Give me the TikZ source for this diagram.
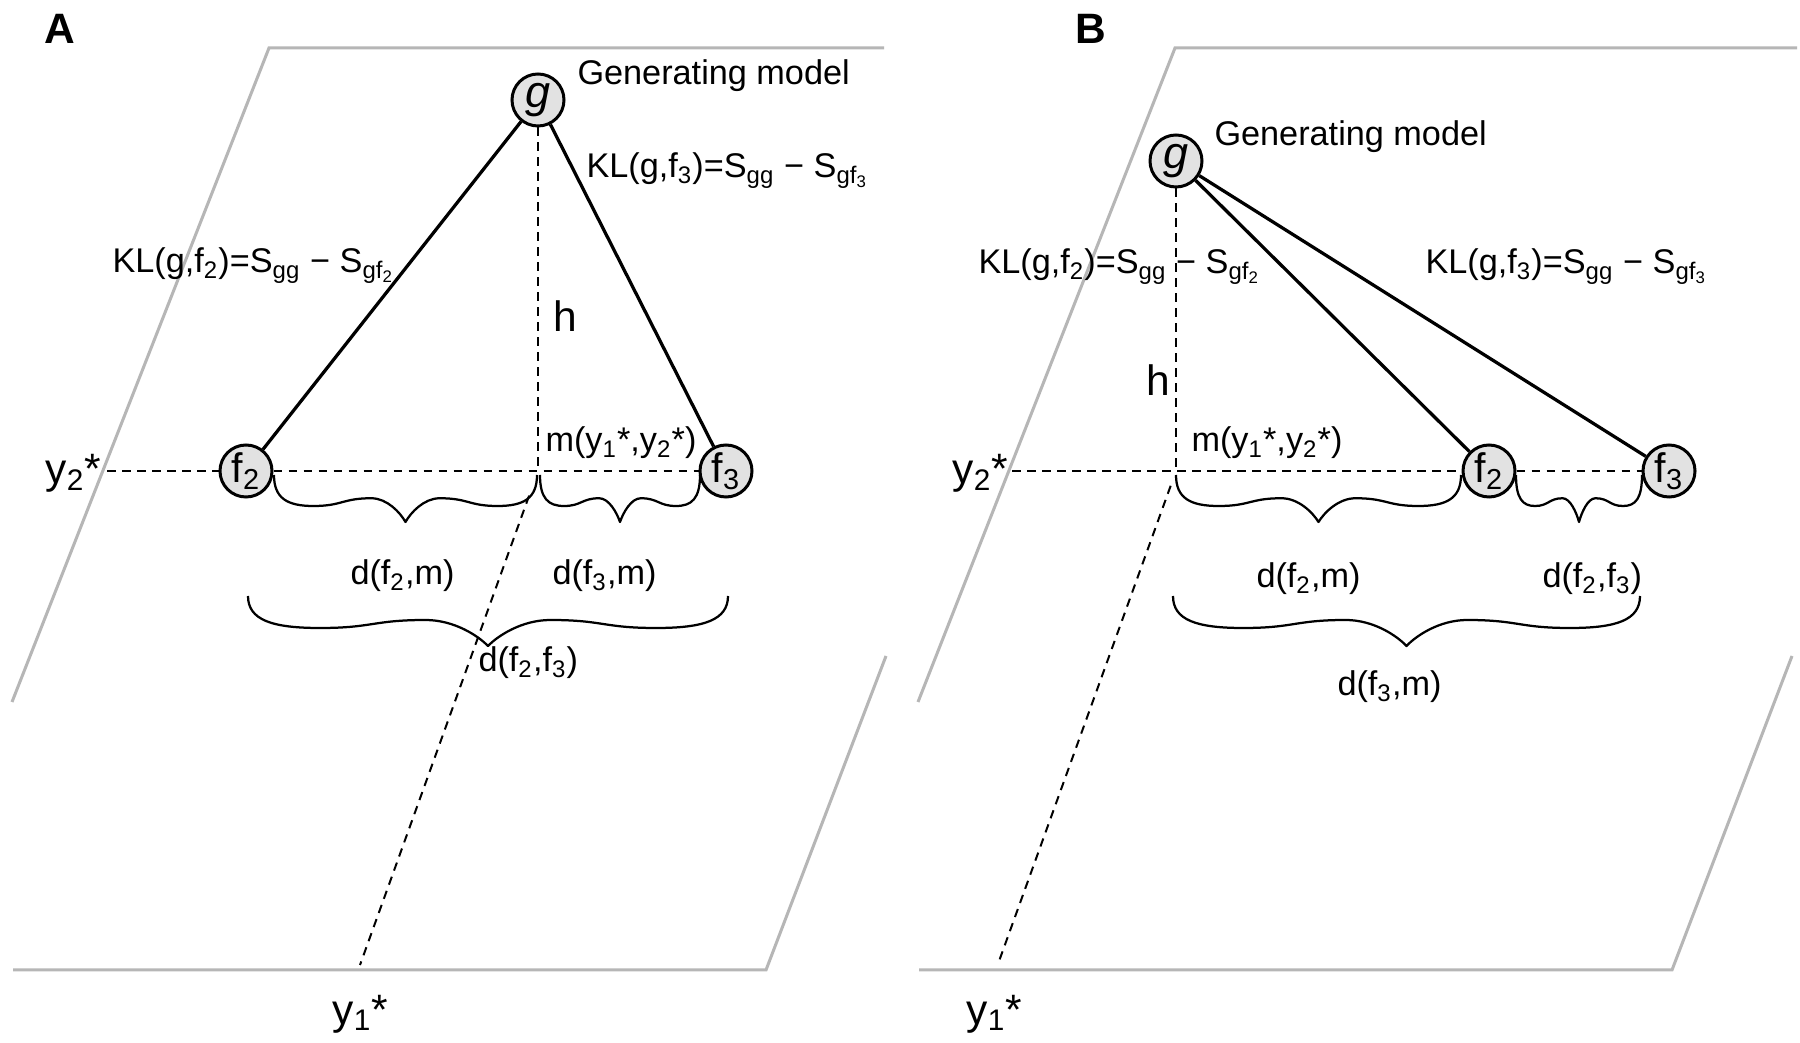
\documentclass[tikz,border=0pt]{standalone}
\usepackage{fontspec}
\setmainfont{Liberation Sans}
\usetikzlibrary{calc}
\definecolor{framegray}{RGB}{182,182,182}
\definecolor{nodefill}{RGB}{226,226,226}
\tikzset{
 px/.style={x=0.4pt,y=-0.4pt},
 frame/.style={draw=framegray, line width=1.2pt},
 model/.style={circle, draw=black, line width=1.2pt, fill=nodefill, minimum size=20.8pt, inner sep=0pt, font=\fontsize{16.5}{16.5}\selectfont},
 gmodel/.style={model, font=\fontsize{18}{18}\selectfont\itshape},
 kl/.style={line width=1.3pt},
 dashline/.style={line width=0.8pt, dash pattern=on 3.4pt off 2.6pt},
 bracestyle/.style={line width=0.9pt, line join=round},
 lbl/.style={inner sep=0pt, anchor=base west, font=\fontsize{13.7}{16}\selectfont},
 biglbl/.style={inner sep=0pt, anchor=base west, font=\fontsize{17}{19}\selectfont},
 paneltag/.style={inner sep=0pt, font=\fontsize{17}{19}\selectfont\bfseries},
}
% wavy curly brace: x1, x2, y, flat depth, tip depth (image coordinates)
\newcommand{\wbrace}[5]{%
 \draw[bracestyle] (#1,#3)
  .. controls ({#1}, {#3+0.75*#4}) and ({#1+0.05*(#2-#1)}, {#3+#4}) .. ({#1+0.15*(#2-#1)}, {#3+#4})
  .. controls ({#1+0.26*(#2-#1)}, {#3+#4}) and ({#1+0.26*(#2-#1)}, {#3+0.75*#4}) .. ({#1+0.37*(#2-#1)}, {#3+0.75*#4})
  .. controls ({#1+0.43*(#2-#1)}, {#3+0.75*#4}) and ({#1+0.48*(#2-#1)}, {#3+0.8*#5}) .. ({#1+0.5*(#2-#1)}, {#3+#5})
  .. controls ({#2-0.48*(#2-#1)}, {#3+0.8*#5}) and ({#2-0.43*(#2-#1)}, {#3+0.75*#4}) .. ({#2-0.37*(#2-#1)}, {#3+0.75*#4})
  .. controls ({#2-0.26*(#2-#1)}, {#3+0.75*#4}) and ({#2-0.26*(#2-#1)}, {#3+#4}) .. ({#2-0.15*(#2-#1)}, {#3+#4})
  .. controls ({#2-0.05*(#2-#1)}, {#3+#4}) and ({#2}, {#3+0.75*#4}) .. (#2,#3);}
\begin{document}
\begin{tikzpicture}[px]
\useasboundingbox (0,0) rectangle (1800,1043);
\fill[white] (0,0) rectangle (1800,1043);

% ---------- frames ----------
\draw[frame] (884,48) -- (269,48) -- (12,702);
\draw[frame] (886,656) -- (766,970) -- (13,970);
\draw[frame] (1797,48) -- (1175,48) -- (918,702);
\draw[frame] (1792,656) -- (1672,970) -- (919,970);

\node[paneltag] (tagA) at (60,29) {A};
\node[paneltag] (tagB) at (1091,29) {B};

% ---------- panel A ----------
\node[gmodel] (gA) at (538,100) {g};
\node[model] (f2A) at (246,471) {f\textsubscript{2}};
\node[model] (f3A) at (726,471) {f\textsubscript{3}};
\coordinate (mA) at (538,471);
\coordinate (y2A) at (107,471);
\coordinate (y1A) at (360,965);
\coordinate (diagA) at ($(mA)!0.05!(y1A)$);

\draw[kl] (gA) -- (f2A);
\draw[kl] (gA) -- (f3A);
\draw[dashline] (gA) -- (mA);
\draw[dashline] (y2A) -- (f2A);
\draw[dashline] (f2A) -- (f3A);
\draw[dashline] (diagA) -- (y1A);

\wbrace{274}{537}{475}{31}{47}
\wbrace{540}{700}{475}{31}{47}
\wbrace{248}{728}{596}{32}{50}

\node[lbl] (genA) at (577,85) {Generating model};
\node[lbl] (klA3) at (586,178) {KL(g,f\textsubscript{3})=S\textsubscript{gg} − S\textsubscript{gf\textsubscript{3}}};
\node[lbl] (klA2) at (112,273) {KL(g,f\textsubscript{2})=S\textsubscript{gg} − S\textsubscript{gf\textsubscript{2}}};
\node[biglbl] (hA) at (553,332) {h};
\node[lbl] (mlabA) at (545,452) {m(y\textsubscript{1}*,y\textsubscript{2}*)};
\node[biglbl] (y2labA) at (45,484) {y\textsubscript{2}*};
\node[biglbl] (y1labA) at (332,1024) {y\textsubscript{1}*};
\node[lbl] (d2mA) at (350,585) {d(f\textsubscript{2},m)};
\node[lbl] (d3mA) at (552,585) {d(f\textsubscript{3},m)};
\node[lbl] (d23A) at (478,672) {d(f\textsubscript{2},f\textsubscript{3})};

% ---------- panel B ----------
\node[gmodel] (gB) at (1176,161) {g};
\node[model] (f2B) at (1489,471) {f\textsubscript{2}};
\node[model] (f3B) at (1669,471) {f\textsubscript{3}};
\coordinate (mB) at (1176,471);
\coordinate (y2B) at (1012,471);
\coordinate (y1B) at (998,964);
\coordinate (diagB) at ($(mB)!0.03!(y1B)$);

\draw[kl] (gB) -- (f2B);
\draw[kl] (gB) -- (f3B);
\draw[dashline] (gB) -- (mB);
\draw[dashline] (y2B) -- (f2B);
\draw[dashline] (f2B) -- (f3B);
\draw[dashline] (diagB) -- (y1B);

\wbrace{1176}{1461}{475}{31}{47}
\wbrace{1516}{1642}{475}{31}{47}
\wbrace{1173}{1640}{596}{32}{50}

\node[lbl] (genB) at (1214,146) {Generating model};
\node[lbl] (klB2) at (978,274) {KL(g,f\textsubscript{2})=S\textsubscript{gg} − S\textsubscript{gf\textsubscript{2}}};
\node[lbl] (klB3) at (1425,274) {KL(g,f\textsubscript{3})=S\textsubscript{gg} − S\textsubscript{gf\textsubscript{3}}};
\node[biglbl] (hB) at (1146,396) {h};
\node[lbl] (mlabB) at (1191,452) {m(y\textsubscript{1}*,y\textsubscript{2}*)};
\node[biglbl] (y2labB) at (952,484) {y\textsubscript{2}*};
\node[biglbl] (y1labB) at (966,1024) {y\textsubscript{1}*};
\node[lbl] (d2mB) at (1256,588) {d(f\textsubscript{2},m)};
\node[lbl] (d23B) at (1542,588) {d(f\textsubscript{2},f\textsubscript{3})};
\node[lbl] (d3mB) at (1337,696) {d(f\textsubscript{3},m)};
\end{tikzpicture}
\end{document}
